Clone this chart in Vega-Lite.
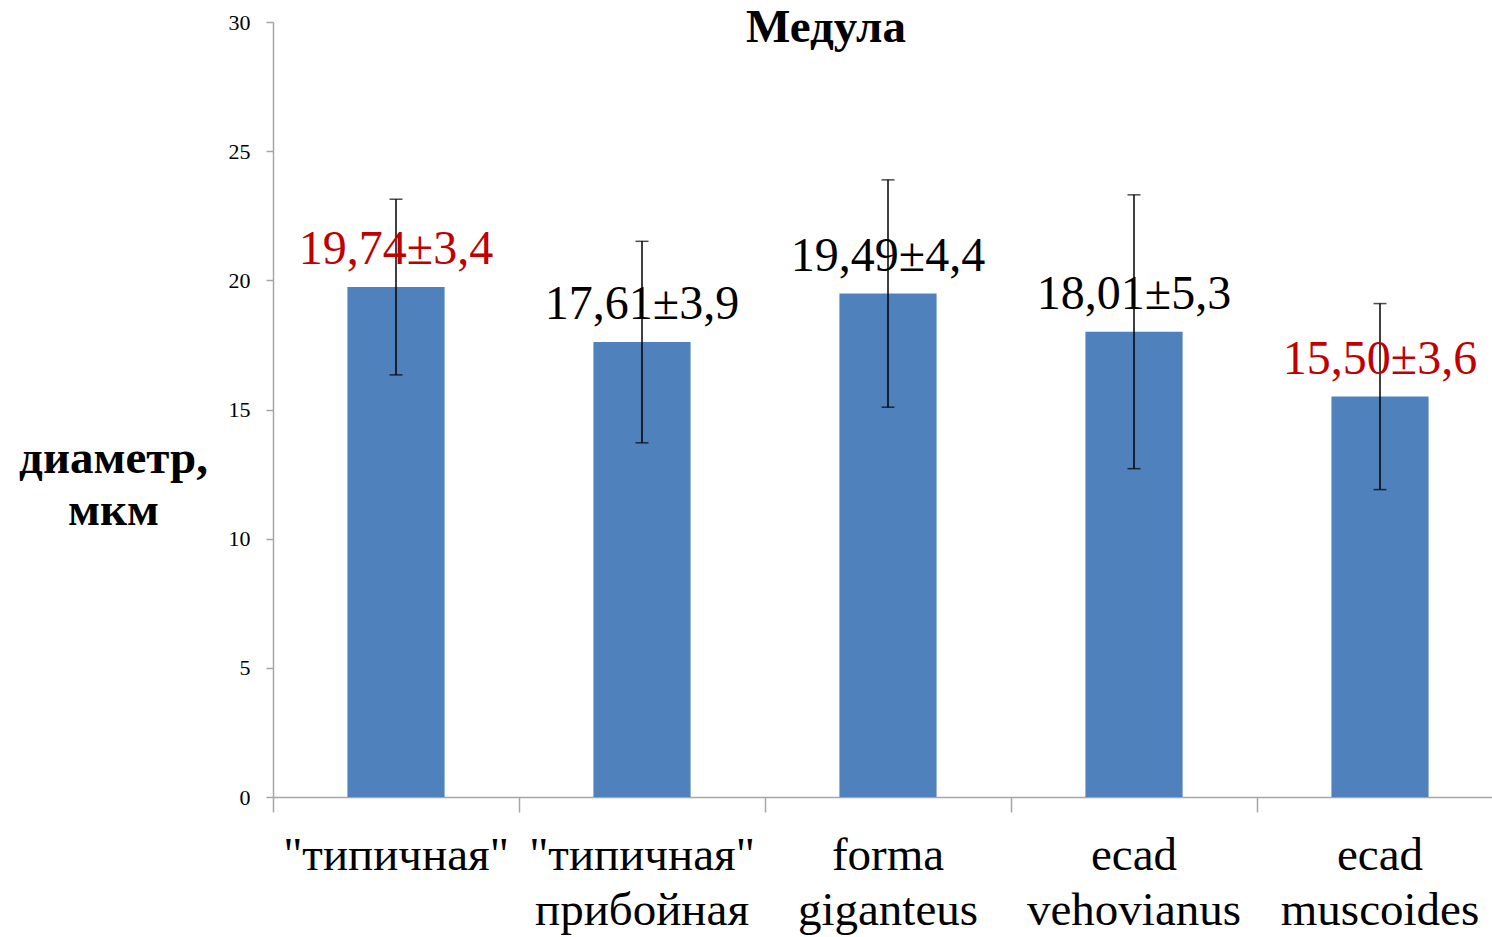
{
  "$schema": "https://vega.github.io/schema/vega-lite/v6.json",
  "autosize": "none",
  "width": 1230,
  "height": 775,
  "padding": {"left": 273, "top": 22, "right": 0, "bottom": 140},
  "background": "white",
  "title": {
    "text": "Медула",
    "font": "Liberation Serif",
    "fontSize": 47,
    "fontWeight": "bold",
    "color": "#000000",
    "anchor": "middle",
    "frame": "group",
    "dx": -62,
    "dy": 22,
    "baseline": "middle",
    "offset": -42
  },
  "config": {
    "view": {"stroke": null},
    "axis": {"grid": false, "labelFont": "Liberation Serif", "titleFont": "Liberation Serif"}
  },
  "data": {
    "values": [
      {"cat": "\"типичная\"", "mean": 19.74, "lo": 16.34, "hi": 23.14, "label": "19,74±3,4", "hl": "red"},
      {"cat": "\"типичная\"|прибойная", "mean": 17.61, "lo": 13.71, "hi": 21.51, "label": "17,61±3,9", "hl": "black"},
      {"cat": "forma|giganteus", "mean": 19.49, "lo": 15.09, "hi": 23.89, "label": "19,49±4,4", "hl": "black"},
      {"cat": "ecad|vehovianus", "mean": 18.01, "lo": 12.71, "hi": 23.31, "label": "18,01±5,3", "hl": "black"},
      {"cat": "ecad|muscoides", "mean": 15.5, "lo": 11.9, "hi": 19.1, "label": "15,50±3,6", "hl": "red"}
    ]
  },
  "encoding": {
    "x": {
      "field": "cat",
      "type": "nominal",
      "sort": null,
      "scale": {"paddingInner": 0, "paddingOuter": 0},
      "axis": {
        "title": null,
        "labelAngle": 0,
        "labelExpr": "split(datum.label, '|')",
        "labelFontSize": 47,
        "labelColor": "#000000",
        "labelLineHeight": 55,
        "labelPadding": 20,
        "labelBaseline": "top",
        "labelLimit": 0,
        "labelOverlap": false,
        "bandPosition": 0,
        "tickSize": 15,
        "tickColor": "#A6A6A6",
        "domainColor": "#A6A6A6",
        "tickWidth": 1.5,
        "domainWidth": 1.5
      }
    }
  },
  "layer": [
    {
      "mark": {"type": "bar", "color": "#4F81BD", "width": {"band": 0.395}},
      "encoding": {
        "y": {
          "field": "mean",
          "type": "quantitative",
          "scale": {"domain": [0, 30], "nice": false},
          "axis": {
            "values": [0, 5, 10, 15, 20, 25, 30],
            "labelFontSize": 22,
            "labelColor": "#000000",
            "labelPadding": 16,
            "tickSize": 7,
            "tickColor": "#A6A6A6",
            "domainColor": "#A6A6A6",
            "tickWidth": 1.5,
            "domainWidth": 1.5,
            "title": ["диаметр,", "мкм"],
            "titleAngle": 0,
            "titleFontSize": 47,
            "titleFontWeight": "bold",
            "titleColor": "#000000",
            "titleAlign": "center",
            "titleBaseline": "middle",
            "titleLineHeight": 52,
            "titleX": -160,
            "titleY": 436
          }
        }
      }
    },
    {
      "mark": {"type": "rule", "color": "#000000", "strokeWidth": 1.5},
      "encoding": {"y": {"field": "lo", "type": "quantitative"}, "y2": {"field": "hi"}}
    },
    {
      "mark": {"type": "tick", "color": "#000000", "size": 13, "thickness": 1.5},
      "encoding": {"y": {"field": "lo", "type": "quantitative"}}
    },
    {
      "mark": {"type": "tick", "color": "#000000", "size": 13, "thickness": 1.5},
      "encoding": {"y": {"field": "hi", "type": "quantitative"}}
    },
    {
      "mark": {"type": "text", "font": "Liberation Serif", "fontSize": 48, "baseline": "middle", "dy": -37},
      "encoding": {
        "y": {"field": "mean", "type": "quantitative"},
        "text": {"field": "label"},
        "color": {"field": "hl", "type": "nominal", "scale": {"domain": ["red", "black"], "range": ["#C00000", "#000000"]}, "legend": null}
      }
    }
  ]
}
